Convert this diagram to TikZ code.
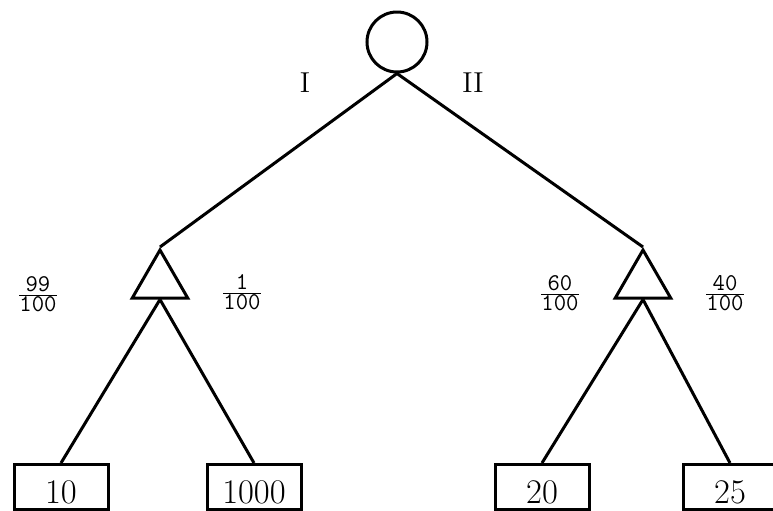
\documentclass[tikz,border=0pt]{standalone}
\usetikzlibrary{shapes.geometric}
\begin{document}
\begin{tikzpicture}[x=0.5pt,y=-0.5pt,
    chance/.style={circle,draw,line width=1.5pt,minimum size=30pt,inner sep=0pt},
    dec/.style={regular polygon,regular polygon sides=3,draw,line width=1.5pt,
      minimum size=32pt,inner sep=0pt},
    pay/.style={rectangle,draw,line width=1.5pt,minimum width=47pt,minimum height=22.5pt,
      inner sep=0pt,text height=16.5pt,text depth=0pt,font=\LARGE},
    edge/.style={line width=1.5pt},
    prob/.style={inner sep=0pt,font=\large\ttfamily},
    every node/.style={font=\Large}]
  \useasboundingbox (0,0) rectangle (773,510);
  % ---- root and the two triangles ----
  \node[chance] (root) at (397,42) {};
  \node[dec] (tl) at (160,282) {};
  \node[dec] (tr) at (643,282) {};
  \draw[edge] (root.south)--(tl.north) (root.south)--(tr.north);
  \node (lI) at (305,83) {I};
  \node (lII) at (473,83) {II};
  % ---- the four outcomes ----
  \node[pay] (o1) at (61,487) {10};
  \node[pay] (o2) at (254,487) {1000};
  \node[pay] (o3) at (542,487) {20};
  \node[pay] (o4) at (730,487) {25};
  \draw[edge] (tl.south)--(o1.north) (tl.south)--(o2.north);
  \draw[edge] (tr.south)--(o3.north) (tr.south)--(o4.north);
  % ---- probabilities ----
  \node[prob] (p1) at (38,294) {$\frac{\texttt{99}}{\texttt{100}}$};
  \node[prob] (p2) at (242,292) {$\frac{\texttt{1}}{\texttt{100}}$};
  \node[prob] (p3) at (560,293) {$\frac{\texttt{60}}{\texttt{100}}$};
  \node[prob] (p4) at (725,293) {$\frac{\texttt{40}}{\texttt{100}}$};
\end{tikzpicture}
\end{document}
